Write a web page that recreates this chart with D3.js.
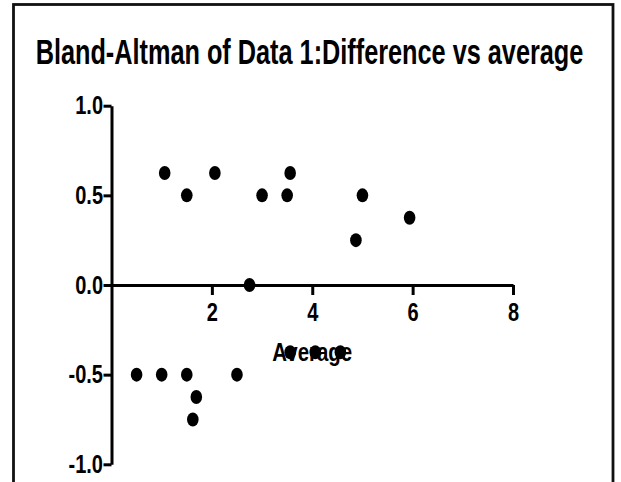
<!DOCTYPE html>
<html>
<head>
<meta charset="utf-8">
<script src="https://cdn.jsdelivr.net/npm/d3@7"></script>
<style>
  html, body { margin: 0; padding: 0; background: #fff; }
  svg { display: block; }
  text { font-family: "Liberation Sans", Arial, sans-serif; font-weight: bold; fill: #000; }
</style>
</head>
<body>
<svg id="chart" width="621" height="482"></svg>
<script>
// ---- data ----
const titleText = "Bland-Altman of Data 1:Difference vs average";
const xLabel = "Average";
const averages = [1.06, 1.5, 2.06, 3.0, 3.5, 3.56, 5.0, 4.87, 5.94, 2.75,
                  0.5, 1.0, 1.5, 2.5, 1.69, 1.62, 3.56, 4.06, 4.56];
const differences = [0.625, 0.5, 0.625, 0.5, 0.5, 0.625, 0.5, 0.25, 0.375, 0.0,
                     -0.5, -0.5, -0.5, -0.5, -0.625, -0.75, -0.375, -0.375, -0.375];
const xTicks = [2, 4, 6, 8];
const yTicks = [-1.0, -0.5, 0.0, 0.5, 1.0];

const points = averages.map((a, i) => ({ avg: a, diff: differences[i] }));

const svg = d3.select("#chart");
const sx = 0.8; // horizontal squash of glyphs seen in the reference

// helper: squash a centred text horizontally to a target width
function fitWidth(sel, cx, baseline, target) {
  sel.attr("x", 0).attr("y", 0).attr("text-anchor", "middle");
  const w = sel.node().getComputedTextLength();
  sel.attr("transform", `translate(${cx},${baseline}) scale(${target / w},1)`);
}

// frame
svg.append("rect")
  .attr("x", 13.5).attr("y", 4.5)
  .attr("width", 599.5).attr("height", 520)
  .attr("fill", "none").attr("stroke", "#111").attr("stroke-width", 2.8);

// title
svg.append("text")
  .attr("font-size", 35)
  .text(titleText)
  .call(fitWidth, 309.5, 64, 548);

// scales
const x = d3.scaleLinear().domain([0, 8]).range([111.5, 513]);
const y = d3.scaleLinear().domain([-1, 1]).range([464.3, 105.7]);

// x axis at y = 0
const xAxis = svg.append("g")
  .attr("transform", `translate(0,${y(0)})`)
  .call(d3.axisBottom(x).tickValues(xTicks).tickFormat(d3.format("d"))
        .tickSize(10).tickSizeOuter(0).tickPadding(8));
xAxis.select(".domain").attr("stroke", "#000").attr("stroke-width", 3);
xAxis.selectAll(".tick line").attr("stroke", "#000").attr("stroke-width", 3);
xAxis.selectAll(".tick text")
  .attr("font-size", 25).attr("font-family", null)
  .attr("transform", `scale(${sx},1)`);

// y axis at x = 0
const yAxis = svg.append("g")
  .attr("transform", `translate(${x(0)},0)`)
  .call(d3.axisLeft(y).tickValues(yTicks).tickFormat(d3.format(".1f"))
        .tickSize(8).tickSizeOuter(0).tickPadding(1));
yAxis.select(".domain").attr("stroke", "#000").attr("stroke-width", 3);
yAxis.selectAll(".tick line").attr("stroke", "#000").attr("stroke-width", 3);
yAxis.selectAll(".tick text")
  .attr("font-size", 25).attr("font-family", null)
  .attr("x", 0)
  .attr("transform", `translate(-8.5,0) scale(${sx},1)`)
  .text(d => d3.format(".1f")(d).replace("\u2212", "-"));
svg.selectAll(".tick text").style("font-weight", "bold");

// x axis label
svg.append("text")
  .attr("font-size", 25)
  .text(xLabel)
  .call(fitWidth, (x(0) + x(8)) / 2, 361, 80);

// points
svg.append("g").selectAll("ellipse")
  .data(points)
  .join("ellipse")
  .attr("cx", d => x(d.avg))
  .attr("cy", d => y(d.diff))
  .attr("rx", 5.8).attr("ry", 7)
  .attr("fill", "#000");
</script>
</body>
</html>
